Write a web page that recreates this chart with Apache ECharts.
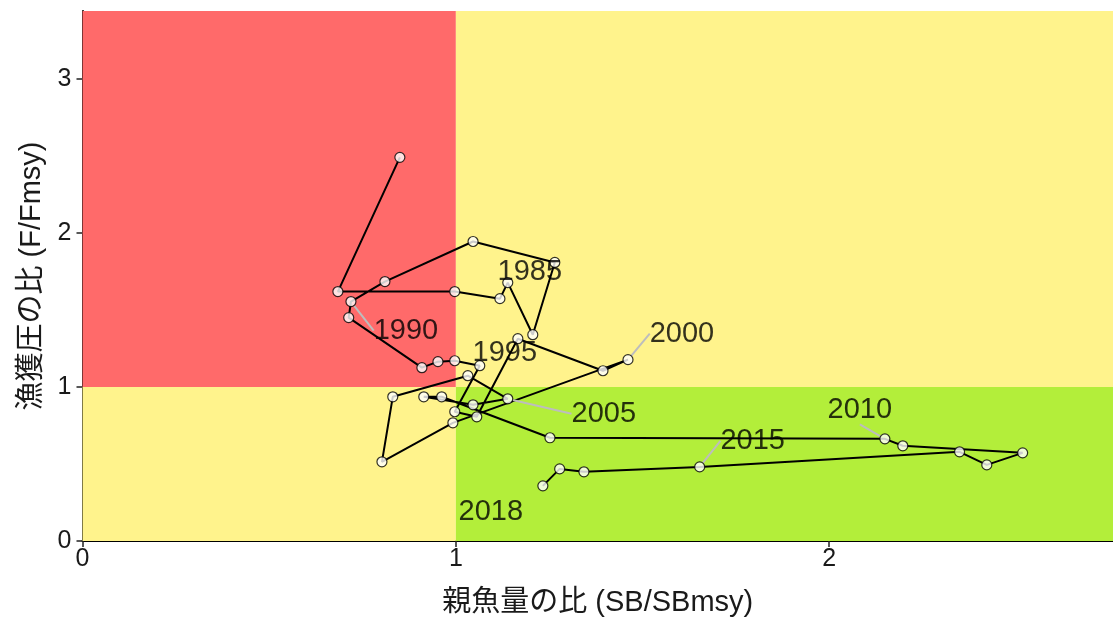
<!DOCTYPE html>
<html>
<head>
<meta charset="utf-8">
<title>Kobe plot</title>
<script src="https://cdn.jsdelivr.net/npm/echarts@6/dist/echarts.min.js"></script>
<style>
  html, body { margin: 0; padding: 0; background: #fff; }
  #chart { width: 1113px; height: 623px; }
</style>
</head>
<body>
<div id="chart"></div>
<script>
'use strict';

// 年ごとの親魚量比と漁獲圧比
var years = [1981, 1982, 1983, 1984, 1985, 1986, 1987, 1988, 1989, 1990,
    1991, 1992, 1993, 1994, 1995, 1996, 1997, 1998, 1999, 2000,
    2001, 2002, 2003, 2004, 2005, 2006, 2007, 2008, 2009, 2010,
    2011, 2012, 2013, 2014, 2015, 2016, 2017, 2018];
var sbRatio = [0.850, 0.684, 0.997, 1.118, 1.139, 1.206, 1.265, 1.046, 0.810, 0.719,
    0.713, 0.909, 0.952, 0.997, 1.064, 0.997, 1.056, 1.166, 1.394, 1.461,
    0.992, 0.802, 0.831, 1.032, 1.139, 1.046, 0.914, 0.962, 1.252, 2.149,
    2.197, 2.518, 2.422, 2.349, 1.653, 1.343, 1.278, 1.233];
var fRatio = [2.490, 1.619, 1.619, 1.573, 1.677, 1.339, 1.808, 1.944, 1.684, 1.554,
    1.450, 1.125, 1.164, 1.170, 1.138, 0.839, 0.806, 1.313, 1.105, 1.177,
    0.767, 0.514, 0.936, 1.073, 0.923, 0.884, 0.936, 0.936, 0.670, 0.663,
    0.618, 0.572, 0.494, 0.579, 0.481, 0.449, 0.468, 0.358];
var labelYears = [1985, 1990, 1995, 2000, 2005, 2010, 2015, 2018];
var tickValues = [0, 1, 2, 3];

var xMax = 2.76, yMax = 3.44;

// ラベル位置のずらし (px)
var labelShift = {
    1985: [22, -11, false],
    1990: [55, 29, true],
    1995: [25, -13, false],
    2000: [54, -26, true],
    2005: [96, 15, true],
    2010: [-25, -29, true],
    2015: [53, -26, true],
    2018: [-52, 26, false]
};

var RED = '#FF6A6A', YELLOW = '#FFF38C', GREEN = '#B3EE3A';

var path = years.map(function (y, i) { return [sbRatio[i], fRatio[i]]; });
var points = years.map(function (y, i) {
    var item = { value: [sbRatio[i], fRatio[i]], year: y };
    if (labelYears.indexOf(y) >= 0) {
        item.label = { show: true };
        item.labelLine = { show: labelShift[y][2] };
    }
    return item;
});

var myChart = echarts.init(document.getElementById('chart'));
var fontFam = 'Liberation Sans, Arial, "Noto Sans CJK JP", sans-serif';

var option = {
    backgroundColor: '#fff',
    animation: false,
    grid: { left: 82.5, right: 0, top: 11, bottom: 82 },
    xAxis: {
        type: 'value', min: 0, max: xMax,
        name: '親魚量の比 (SB/SBmsy)', nameLocation: 'middle', nameGap: 48,
        nameTextStyle: { fontSize: 29, color: '#1a1a1a', fontFamily: fontFam },
        splitLine: { show: false },
        axisLine: { show: true, lineStyle: { color: '#000', width: 2 } },
        axisTick: { show: true, length: 6, lineStyle: { color: '#222', width: 1.5 }, customValues: [0, 1, 2] },
        axisLabel: { fontSize: 25, color: '#1a1a1a', margin: 6, fontFamily: fontFam, customValues: [0, 1, 2] }
    },
    yAxis: {
        type: 'value', min: 0, max: yMax,
        name: '漁獲圧の比 (F/Fmsy)', nameLocation: 'middle', nameGap: 34, nameRotate: 90,
        nameTextStyle: { fontSize: 29, color: '#1a1a1a', fontFamily: fontFam },
        splitLine: { show: false },
        axisLine: { show: true, lineStyle: { color: '#000', width: 2 } },
        axisTick: { show: true, length: 6, lineStyle: { color: '#222', width: 1.5 }, customValues: tickValues },
        axisLabel: { fontSize: 25, color: '#1a1a1a', margin: 11, fontFamily: fontFam, customValues: tickValues }
    },
    series: [
        {
            type: 'line',
            data: path,
            showSymbol: false,
            z: 3,
            lineStyle: { color: '#000', width: 2 },
            markArea: {
                silent: true,
                data: [
                    [{ coord: [0, 1], itemStyle: { color: RED, opacity: 1 } }, { coord: [1, yMax] }],
                    [{ coord: [1, 1], itemStyle: { color: YELLOW, opacity: 1 } }, { coord: [xMax, yMax] }],
                    [{ coord: [0, 0], itemStyle: { color: YELLOW, opacity: 1 } }, { coord: [1, 1] }],
                    [{ coord: [1, 0], itemStyle: { color: GREEN, opacity: 1 } }, { coord: [xMax, 1] }]
                ]
            }
        },
        {
            type: 'scatter',
            data: points,
            z: 4,
            symbolSize: 10,
            itemStyle: { color: '#fff', borderColor: '#000', borderWidth: 1.2 },
            label: {
                show: false,
                position: 'inside',
                fontSize: 29,
                color: '#000',
                textBorderWidth: 0,
                textBorderColor: 'transparent',
                fontFamily: fontFam,
                formatter: function (p) { return p.data.year; }
            },
            labelLine: { show: false, lineStyle: { color: '#bdbdbd', width: 2 } },
            labelLayout: function (p) {
                var y = years[p.dataIndex];
                var s = labelShift[y];
                if (!s) { return {}; }
                return { dx: s[0], dy: s[1] };
            }
        }
    ]
};

myChart.setOption(option);
window.addEventListener('resize', function () { myChart.resize(); });
</script>
</body>
</html>
